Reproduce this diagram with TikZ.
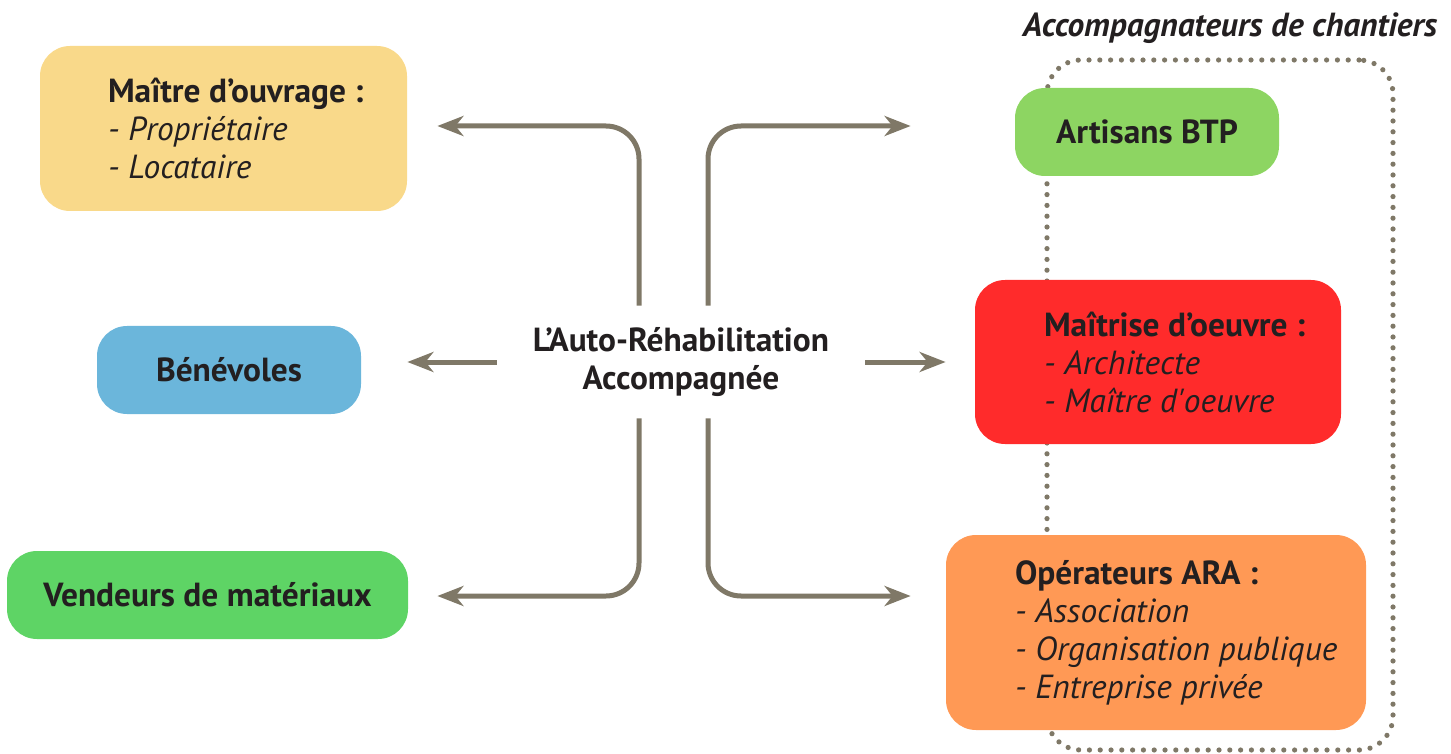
\documentclass[tikz,border=0pt]{standalone}
\usepackage{fontspec}
\setmainfont{PT Sans}
\usepackage{tikz}
\usetikzlibrary{arrows.meta}

\definecolor{ouvrage}{HTML}{F9D98A}
\definecolor{benevole}{HTML}{6BB6DB}
\definecolor{vendeur}{HTML}{5ED465}
\definecolor{artisan}{HTML}{8DD562}
\definecolor{oeuvre}{HTML}{FF2B2B}
\definecolor{operateur}{HTML}{FF9955}
\definecolor{lien}{HTML}{7F7867}
\definecolor{encre}{HTML}{231F20}

\begin{document}
\begin{tikzpicture}[x=0.5pt,y=-0.5pt,
			box node/.style={rounded corners=15pt,inner sep=0pt,text=encre,font=\fontsize{16.7}{19}\selectfont\bfseries},
			list node/.style={align=left,inner sep=0pt,text=encre,font=\fontsize{16.7}{19}\selectfont},
			link/.style={-{Stealth[length=13pt,width=10pt,inset=4pt]},line width=2.5pt,draw=lien,rounded corners=16.5pt},
			group/.style={draw=lien,line width=2.6pt,dash pattern=on 0pt off 5.4pt,line cap=round,rounded corners=17pt,inner sep=0pt}
			]
			
			\useasboundingbox (0,0) rectangle (1451,754);
			
			% accompagnateurs
			\node[group,minimum width=173pt,minimum height=345pt] (acc) at (1220,405) {};
			\node[list node,font=\fontsize{16.7}{19}\selectfont\bfseries\itshape] (titre) at (1230,28) {Accompagnateurs de chantiers};
			
			\node[box node,fill=ouvrage,minimum width=183.5pt,minimum height=82.5pt] (mo) at (223.5,128.5) {};
			\node[box node,fill=benevole,minimum width=132pt,minimum height=44pt] (ben) at (229,370) {Bénévoles};
			\node[box node,fill=vendeur,minimum width=200.5pt,minimum height=44pt] (ven) at (207.5,595) {Vendeurs de matériaux};
			\node[box node,fill=artisan,minimum width=132pt,minimum height=44pt] (art) at (1147,132) {Artisans BTP};
			\node[box node,fill=oeuvre,minimum width=183pt,minimum height=82pt] (moe) at (1158,362) {};
			\node[box node,fill=operateur,minimum width=210pt,minimum height=97.5pt] (ope) at (1156,632.5) {};
			
			\node[list node,anchor=west] (mot) at ([xshift=34pt]mo.west) {\textbf{Maître d’ouvrage :}\\\textit{- Propriétaire}\\\textit{- Locataire}};
			\node[list node,anchor=west] (moet) at ([xshift=34.5pt]moe.west) {\textbf{Maîtrise d’oeuvre :}\\\textit{- Architecte}\\\textit{- Maître d\textquotesingle oeuvre}};
			\node[list node,anchor=west] (opet) at ([xshift=34.5pt]ope.west) {\textbf{Opérateurs ARA :}\\\textit{- Association}\\\textit{- Organisation publique}\\\textit{- Entreprise privée}};
			
			\node[box node,align=center,minimum width=184pt,minimum height=56pt] (ara) at (681,362) {L’Auto-Réhabilitation\\Accompagnée};
			
			\draw[link] ([xshift=-21pt]ara.north) |- ([xshift=15pt,yshift=1.25pt]mo.east);
			\draw[link] ([xshift=13.5pt]ara.north) |- ([xshift=-52pt,yshift=3pt]art.west);
			\draw[link,shorten >=23pt] (ara.west) -- (ara.west -| ben.east);
			\draw[link,shorten >=14.5pt] (ara.east) -- (ara.east -| moe.west);
			\draw[link] ([xshift=-21pt]ara.south) |- ([xshift=14.5pt,yshift=-0.5pt]ven.east);
			\draw[link] ([xshift=13.5pt]ara.south) |- ([xshift=-17.5pt,yshift=18.25pt]ope.west);
			\end{tikzpicture}
\end{document}
